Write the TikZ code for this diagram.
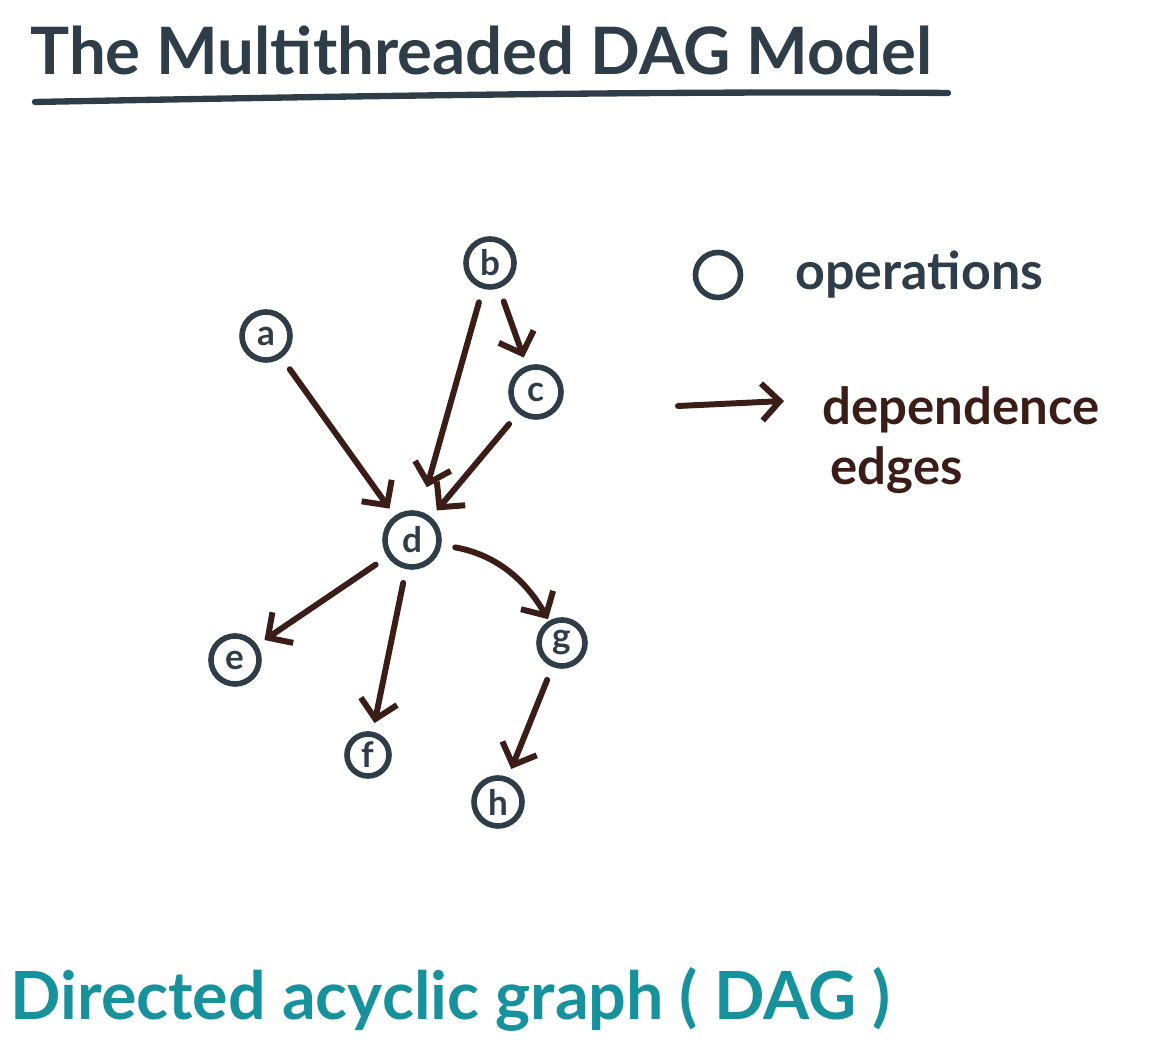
\documentclass[tikz,border=0pt]{standalone}
\usepackage{fontspec}
\setmainfont{Lato}
\usetikzlibrary{positioning, arrows.meta}
\definecolor{inkslate}{HTML}{2E3D47}
\definecolor{inkbrown}{HTML}{3A1D17}
\definecolor{inkteal}{HTML}{17929C}

\tikzset{
  op/.style={circle, draw=inkslate, line width=3.2pt, minimum size=0.96cm,
    inner sep=0pt, text=inkslate, font=\fontsize{20}{20}\selectfont\bfseries},
  dep/.style={draw=inkbrown, line width=3.4pt, line cap=round,
    -{Straight Barb[length=3.6mm, width=7.4mm]}, shorten <=8pt, shorten >=5pt},
  inktext/.style={inner sep=0pt, anchor=base west},
}

\begin{document}
\begin{tikzpicture}[x=0.02cm, y=0.02cm]
    \useasboundingbox (0,0) rectangle (1150,1061);

    % Title and underline
    \node[inktext, text=inkslate, font=\fontsize{37.2}{37.2}\selectfont\bfseries] (title) at (30,986) {The Multithreaded DAG Model};
    \draw[inkslate, line width=3.6pt, line cap=round] (35,959) .. controls (400,966) and (700,970) .. (948,968);

    % Operations
    \node[op] (a) at (266,725) {a};
    \node[op] (b) at (490,798) {b};
    \node[op, minimum size=1cm] (c) at (536,669) {c};
    \node[op, minimum size=1.08cm] (d) at (412,521) {d};
    \node[op] (e) at (235,401) {e};
    \node[op, minimum size=0.84cm] (f) at (368,306) {f};
    \node[op, minimum size=0.92cm] (g) at (562,418) {g};
    \node[op] (h) at (498,259) {h};

    % Dependence edges
    \draw[dep] (a) -- (d);
    \draw[dep, shorten >=0.5cm] (b) -- (d);
    \draw[dep] (b) -- (c);
    \draw[dep] (c) -- (d);
    \draw[dep] (d) -- (e);
    \draw[dep] (d) -- (f);
    \draw[dep, shorten >=1pt] (d) to[bend left=25] (g);
    \draw[dep] (g) -- (h);

    % Legend
    \node[op, minimum size=0.9cm] (opsym) at (718,786) {};
    \node[inktext, text=inkslate, font=\fontsize{29.6}{29.6}\selectfont\bfseries] (opslabel) at (795,771) {operations};
    \coordinate (depstart) at (678,655);
    \coordinate (depend) at (784,660);
    \draw[dep, shorten <=0pt, shorten >=0pt] (depstart) -- (depend);
    \node[inktext, text=inkbrown, font=\fontsize{29}{29}\selectfont\bfseries] (deplabel) at (822,636) {dependence};
    \node[inktext, text=inkbrown, font=\fontsize{29}{29}\selectfont\bfseries] (edgelabel) at (830,576) {edges};

    % Name of the graph
    \node[inktext, text=inkteal, font=\fontsize{37.8}{37.8}\selectfont\bfseries] (dagname) at (10,41) {Directed acyclic graph ( DAG )};
\end{tikzpicture}
\end{document}
